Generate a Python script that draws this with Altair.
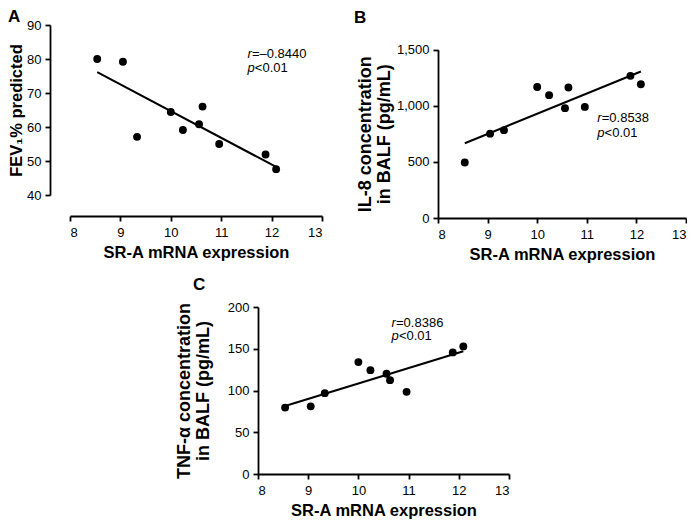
import altair as alt
import pandas as pd

# ---- data ----
sr_a = [8.54, 9.05, 9.33, 10.00, 10.24, 10.56, 10.63, 10.96, 11.88, 12.09]
fev1 = [80.0, 79.2, 57.1, 64.4, 59.1, 60.8, 66.0, 55.0, 51.9, 47.6]
il8 = [495, 752, 783, 1168, 1095, 979, 1163, 990, 1267, 1192]
tnf = [79.5, 81.0, 96.8, 134.0, 124.4, 120.0, 112.4, 98.4, 145.6, 152.8]

x_ticks = [8, 9, 10, 11, 12, 13]
a_ticks = [40, 50, 60, 70, 80, 90]
b_ticks = [0, 500, 1000, 1500]
c_ticks = [0, 50, 100, 150, 200]

a_stats = ["=\u20130.8440", "<0.01"]
b_stats = ["=0.8538", "<0.01"]
c_stats = ["=0.8386", "<0.01"]

FONT = "Liberation Sans"
X_TITLE = "SR-A mRNA expression"


def panel(yvals, ydomain, yticks, ytitle, letter, stats, stat_pos,
          width, height, xoff=0, yoff=0, yfmt="d", title_offset=0, title_dx=0,
          title_dy=0, ytitle_size=16.5, ytitle_pad=6, top_gap=0):
    df = pd.DataFrame({"x": sr_a, "y": yvals})
    xs = alt.X("x:Q", scale=alt.Scale(domain=[8, 13], nice=False),
               axis=alt.Axis(values=x_ticks, title=X_TITLE, offset=xoff,
                             format="d", labelPadding=5, titlePadding=5))
    yscale = alt.Scale(domain=ydomain, nice=False)
    if top_gap:
        yscale = alt.Scale(domain=ydomain, nice=False,
                           range=[height, top_gap])
    ys = alt.Y("y:Q", scale=yscale,
               axis=alt.Axis(values=yticks, title=ytitle, offset=yoff,
                             format=yfmt, titleFontSize=ytitle_size,
                             titleLineHeight=ytitle_size + 1,
                             titlePadding=ytitle_pad))
    base = alt.Chart(df)
    pts = base.mark_circle(size=62, color="black", opacity=1).encode(x=xs, y=ys)
    fit = base.transform_regression("x", "y").mark_line(
        color="black", strokeWidth=2).encode(x=xs, y=ys)
    sx, sy1, sy2 = stat_pos
    ann = alt.Chart(pd.DataFrame({"x": [sx, sx], "y": [sy1, sy2],
                                  "k": ["r", "p"], "v": stats}))
    lab = ann.mark_text(
        font=FONT, fontSize=13, fontStyle="italic",
        align="left", baseline="middle", color="black"
    ).encode(x=xs, y=ys, text="k:N")
    val_r = ann.transform_filter("datum.k == 'r'").mark_text(
        font=FONT, fontSize=13, dx=4.5,
        align="left", baseline="middle", color="black"
    ).encode(x=xs, y=ys, text="v:N")
    val_p = ann.transform_filter("datum.k == 'p'").mark_text(
        font=FONT, fontSize=13, dx=7.4,
        align="left", baseline="middle", color="black"
    ).encode(x=xs, y=ys, text="v:N")
    return alt.layer(fit, pts, lab, val_r, val_p).properties(
        width=width, height=height,
        title=alt.TitleParams(letter, anchor="start", frame="group",
                              fontSize=17, fontWeight="bold", font=FONT,
                              color="black", offset=title_offset,
                              dx=title_dx, dy=title_dy, baseline="bottom"))


A = panel(fev1, [40, 90], a_ticks, "FEV\u2081% predicted", "A", a_stats,
          (11.52, 81.5, 77.3), 252, 170, xoff=21, yoff=20,
          title_dx=-62, title_dy=24, ytitle_pad=2)
B = panel(il8, [0, 1500], b_ticks,
          ["IL-8 concentration", "in BALF (pg/mL)"], "B", b_stats,
          (11.21, 895, 762), 248, 193, yfmt=",d",
          title_dx=-84, title_dy=18.7, ytitle_size=18, ytitle_pad=3,
          top_gap=24.7)
C = panel(tnf, [0, 200], c_ticks,
          ["TNF-\u03b1 concentration", "in BALF (pg/mL)"], "C", c_stats,
          (10.66, 180.8, 164.7), 251, 167, title_dx=-65, title_dy=10,
          ytitle_size=18, ytitle_pad=15)

# invisible spacer that shifts panel C to the right
spacer = alt.Chart(pd.DataFrame({"s": [0]})).mark_point(opacity=0).properties(
    width=105, height=10)

row = alt.hconcat(A, B, spacing=31)
row2 = alt.hconcat(spacer, C, spacing=0)
chart = alt.vconcat(row, row2, spacing=13).properties(
    padding={"left": 0, "top": 0, "right": 0, "bottom": 0},
    background="white"
).configure_view(stroke=None).configure_axis(
    grid=False, domainColor="black", domainWidth=1.8, tickColor="black",
    tickWidth=1.8, tickSize=5, labelColor="black", labelFont=FONT,
    labelFontSize=13, labelPadding=4, titleColor="black", titleFont=FONT,
    titleFontSize=16.5, titleFontWeight="bold"
)

chart.save("out.html", embed_options={"renderer": "svg", "actions": False})
